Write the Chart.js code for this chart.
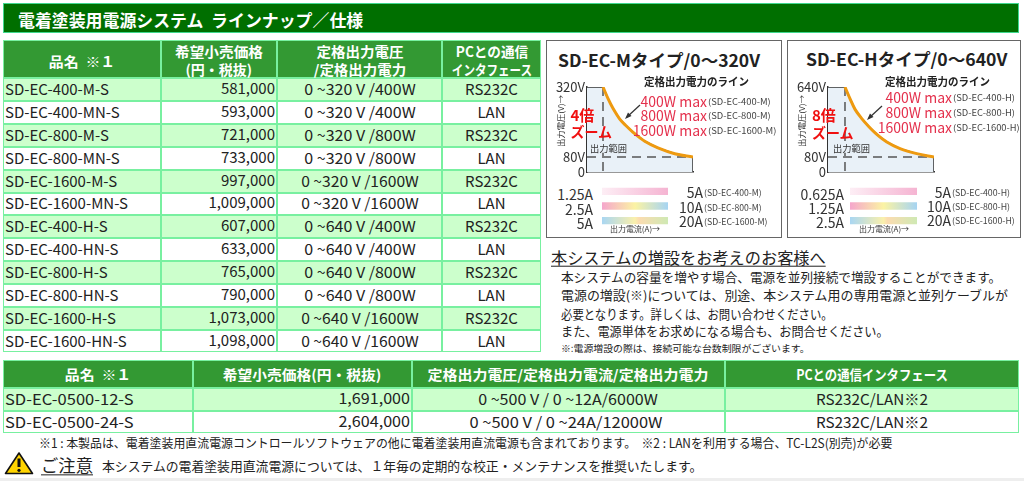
<!DOCTYPE html>
<html lang="ja"><head><meta charset="utf-8">
<script src="https://cdn.jsdelivr.net/npm/chart.js@4"></script>
<style>
html,body{margin:0;padding:0;background:#fff;width:1024px;height:481px;overflow:hidden}
body{position:relative;font-family:"Noto Sans CJK JP","Noto Sans",sans-serif;color:#222}
.t{position:absolute;white-space:pre;line-height:.9;z-index:2}
.c{position:absolute;box-sizing:border-box}
canvas{position:absolute}
svg{position:absolute;left:0;top:0}
</style></head><body>
<script>
/* ---- table data ---- */
const tableHeaders=[["品名  ※１"],["希望小売価格","(円・税抜)"],["定格出力電圧","/定格出力電力"],["PCとの通信","インタフェース"]];
const models=["SD-EC-400-M-S","SD-EC-400-MN-S","SD-EC-800-M-S","SD-EC-800-MN-S","SD-EC-1600-M-S","SD-EC-1600-MN-S","SD-EC-400-H-S","SD-EC-400-HN-S","SD-EC-800-H-S","SD-EC-800-HN-S","SD-EC-1600-H-S","SD-EC-1600-HN-S"];
const prices=["581,000","593,000","721,000","733,000","997,000","1,009,000","607,000","633,000","765,000","790,000","1,073,000","1,098,000"];
const ratings=["0 ~320 V /400W","0 ~320 V /400W","0 ~320 V /800W","0 ~320 V /800W","0 ~320 V /1600W","0 ~320 V /1600W","0 ~640 V /400W","0 ~640 V /400W","0 ~640 V /800W","0 ~640 V /800W","0 ~640 V /1600W","0 ~640 V /1600W"];
const ports=["RS232C","LAN","RS232C","LAN","RS232C","LAN","RS232C","LAN","RS232C","LAN","RS232C","LAN"];
const headers2=["品名  ※１","希望小売価格(円・税抜)","定格出力電圧/定格出力電流/定格出力電力","PCとの通信インタフェース"];
const models2=["SD-EC-0500-12-S","SD-EC-0500-24-S"];
const prices2=["1,691,000","2,604,000"];
const ratings2=["0 ~500 V / 0 ~12A/6000W","0 ~500 V / 0 ~24A/12000W"];
const ports2=["RS232C/LAN※2","RS232C/LAN※2"];
/* ---- chart data ---- */
const mCurrent=[1.25,1.46,1.67,1.94,2.19,2.57,2.99,3.54,4.24,5];
const mVoltage=[320,280,246,211,189,160,134,111,91,80];
const hCurrent=[0.625,0.87,1.12,1.45,1.77,2.19,2.68,3.33,4.15,5];
const hVoltage=[640,547,461,387,328,261,200,147,107,80];
const rangeBars=[[25,100],[25,100],[25,100]];
const rangeRows=["400","800","1600"];
const mAmpLow=["1.25A","2.5A","5A"], hAmpLow=["0.625A","1.25A","2.5A"], ampHigh=["5A","10A","20A"];
const wattLines=["400W max","800W max","1600W max"];

/* ---- helpers ---- */
function put(text,x,y,size,o={}){
  const e=document.createElement('div');e.className='t';e.textContent=text;
  e.style.left=x+'px';e.style.top=y+'px';e.style.fontSize=size+'px';
  if(o.color)e.style.color=o.color; if(o.bold)e.style.fontWeight='700';
  if(o.bg)e.style.background=o.bg;
  if(o.u){e.style.textDecoration='underline';e.style.textUnderlineOffset='2px'}
  document.body.appendChild(e);
  const s=o.w?o.w/e.offsetWidth:1, a=o.a||'l';
  const tx=a==='l'?'0':a==='c'?'-50%':'-100%';
  e.style.transformOrigin=a==='l'?'left center':a==='c'?'center':'right center';
  e.style.transform=`translate(${tx},-50%) ${o.rot?'rotate(-90deg) ':''}scaleX(${s})`;
  return e;
}
function cell(x0,y0,x1,y1,bg,bd){
  const e=document.createElement('div');e.className='c';
  e.style.cssText=`left:${x0}px;top:${y0}px;width:${x1-x0}px;height:${y1-y0}px;background:${bg};border:${bd||'1.5px solid #78f0a0'}`;
  document.body.appendChild(e);
}
/* ---- title bar ---- */
cell(3,3,1019,33,'#006f00','1.5px solid #40d890');
put("電着塗装用電源システム  ラインナップ／仕様",18,19.5,17,{color:'#fff',bold:true,w:345});

/* ---- upper table ---- */
const colX=[3,160.5,277,442,541], rowH=22.85, top1=78.3;
const headW=[[66],[88],[87,92],[72,80]];
tableHeaders.forEach((h,i)=>{
  cell(colX[i],39.5,colX[i+1],top1,'#339933');
  const cx=(colX[i]+colX[i+1])/2;
  if(h.length===1) put(h[0],cx,60.5,14,{color:'#fff',bold:true,a:'c',w:headW[i][0]});
  else {put(h[0],cx,51,14,{color:'#fff',bold:true,a:'c',w:headW[i][0]});
        put(h[1],cx,69,14,{color:'#fff',bold:true,a:'c',w:headW[i][1]});}
});
models.forEach((m,r)=>{
  const y0=top1+r*rowH,y1=y0+rowH,bg=r%2?'#ffffff':'#ccffcc',yc=(y0+y1)/2-.5;
  for(let i=0;i<4;i++)cell(colX[i],y0,colX[i+1],y1,bg);
  put(m,5,yc,15,{});
  put(prices[r],275,yc-1,15,{a:'r'});
  put(ratings[r],(colX[2]+colX[3])/2,yc,15,{a:'c',w:ratings[r].includes('1600')?118:111});
  put(ports[r],(colX[3]+colX[4])/2,yc,15,{a:'c'});
});

/* ---- lower table ---- */
const colX2=[3,192.5,411.5,725,1019], y2=[359.5,387.7,410.7,433.5];
const headW2=[66,159,281,152];
headers2.forEach((h,i)=>{
  cell(colX2[i],y2[0],colX2[i+1],y2[1],'#339933');
  put(h,(colX2[i]+colX2[i+1])/2,374,14,{color:'#fff',bold:true,a:'c',w:headW2[i]});
});
models2.forEach((m,r)=>{
  const bg=r?'#ffffff':'#ccffcc',yc=(y2[r+1]+y2[r+2])/2-.5;
  for(let i=0;i<4;i++)cell(colX2[i],y2[r+1],colX2[i+1],y2[r+2],bg);
  put(m,5,yc,15,{w:129});
  put(prices2[r],410,yc-1,15,{a:'r',w:72});
  put(ratings2[r],(colX2[2]+colX2[3])/2-(r?2:0),yc,15,{a:'c',w:r?193:180});
  put(ports2[r],(colX2[3]+colX2[4])/2,yc,15,{a:'c',w:112});
});

/* ---- notes ---- */
put("※1 : 本製品は、電着塗装用直流電源コントロールソフトウェアの他に電着塗装用直流電源も含まれております。  ※2 : LANを利用する場合、TC-L2S(別売)が必要",39,442.5,12.5,{w:853});
put("ご注意",41,464.5,17,{u:true,w:52});
put("本システムの電着塗装用直流電源については、１年毎の定期的な校正・メンテナンスを推奨いたします。",102,466,13,{w:600});
put("本システムの増設をお考えのお客様へ",551,257,16.2,{u:true,w:275});
put("本システムの容量を増やす場合、電源を並列接続で増設することができます。",561,276.5,12.6,{w:440});
put("電源の増設(※)については、別途、本システム用の専用電源と並列ケーブルが",561,295,12.6,{w:447});
put("必要となります。詳しくは、お問い合わせください。",561,313.5,12.6,{w:272});
put("また、電源単体をお求めになる場合も、お問合せください。",561,331,12.6,{w:328});
put("※:電源増設の際は、接続可能な台数制限がございます。",561,348,9.6,{w:249});
cell(0,478,1024,481,'#eeeeee','none');

/* ---- caution icon + arrows ---- */
document.body.insertAdjacentHTML('beforeend',`<svg width="1024" height="481" style="z-index:3" fill="none">
<path d="M19 453 L32.5 473.5 L5.5 473.5 Z" fill="#ffd400" stroke="#111" stroke-width="1.6" stroke-linejoin="round"/>
<path d="M19 458.5 L19 467" stroke="#111" stroke-width="3"/><circle cx="19" cy="470.3" r="1.6" fill="#111"/>
<path d="M640 105 L627 117" stroke="#333" stroke-width="1.2"/><path d="M625 119 L628 112.5 L631.5 116 Z" fill="#333"/>
<path d="M882 106 L869 118" stroke="#333" stroke-width="1.2"/><path d="M867 120 L870 113.5 L873.5 117 Z" fill="#333"/>
</svg>`);

/* ---- panels ---- */
const RED='#e4304c';
function panel(cfg){
  cell(cfg.px0,40,cfg.px1,238,'#fff','1.5px solid #666');
  put(cfg.title,cfg.titleX,cfg.titleY,17,{bold:true,w:cfg.titleW,color:'#222'});
  put("定格出力電力のライン",cfg.lineX,82,11,{bold:true,w:105});
  wattLines.forEach((w,i)=>{
    put(w,cfg.wattX[i],cfg.wattY[i],14,{color:RED,a:'r'});
    put(`(SD-EC-${rangeRows[i]}-${cfg.t})`,cfg.wattX[i]+1,cfg.wattY[i]+1,8.5,{color:'#444',w:cfg.smallW[i]});
  });
  put(cfg.zoom,cfg.zoomX,115,15,{color:'#f01010',bold:true,w:24});
  put("ズーム",cfg.zoomX,cfg.zoomY,14,{color:'#f01010',bold:true,w:42});
  put("出力範囲",cfg.rangeX,148,9.5,{w:37,color:'#333',bg:'#e9f1f8'});
  put("出力電圧(V)→",cfg.yTitleX,121,7.5,{a:'c',rot:true,w:52,color:'#333'});
  cfg.low.forEach((t,i)=>{
    put(t,cfg.lowX,cfg.ampY[i]+2,14,{a:'r',color:'#333'});
    put(ampHigh[i],cfg.highX,cfg.ampY[i],14,{a:'r',color:'#333'});
    put(`(SD-EC-${rangeRows[i]}-${cfg.t})`,cfg.highX+1,cfg.ampY[i]+1,8.5,{color:'#444',w:cfg.ampSmallW[i]});
  });
  put("出力電流(A)→",cfg.xTitleX,229,7.5,{a:'c',w:50,color:'#333'});

  /* plot */
  const cv=document.createElement('canvas');
  const W=cfg.plotR-cfg.plotL+32+7,H=104;
  cv.width=W;cv.height=H;cv.style.cssText=`left:${cfg.plotL-32}px;top:78px;width:${W}px;height:${H}px;z-index:1`;
  document.body.appendChild(cv);
  const I=cfg.I,V=cfg.V,xMin=cfg.xMin,floor=cfg.floor,vMax=V[0];
  const pts=I.map((x,k)=>({x,y:V[k]}));
  new Chart(cv,{type:'scatter',data:{datasets:[
    {label:'curve',data:pts,showLine:true,borderColor:'#ee9a10',borderWidth:3,pointRadius:0,tension:0.35,order:1},
    {label:'limit',data:[{x:xMin,y:vMax},{x:I[0],y:vMax},...pts.slice(1),{x:I[I.length-1],y:floor}],showLine:true,borderColor:'#333',borderWidth:1.5,backgroundColor:'#e9f1f8',fill:'start',pointRadius:0,tension:0,order:4},
    {label:'80V',data:[{x:xMin,y:80},{x:I[I.length-1],y:80}],showLine:true,borderColor:'#555',borderWidth:1.5,borderDash:[9,6],pointRadius:0,order:2},
    {label:'Imin',data:[{x:I[0],y:vMax},{x:I[0],y:floor}],showLine:true,borderColor:'#555',borderWidth:1.5,borderDash:[9,6],pointRadius:0,order:2}
  ]},options:{responsive:false,animation:false,events:[],
    layout:{padding:{top:9,right:7,bottom:9,left:0}},
    plugins:{legend:{display:false},tooltip:{enabled:false}},
    scales:{
      x:{type:'linear',min:xMin,max:I[I.length-1],grid:{display:false},border:{display:true,color:'#333',width:1.5},ticks:{display:false},
        afterFit:s=>{s.height=1;s.paddingLeft=0;s.paddingRight=0}},
      y:{type:'linear',min:floor,max:vMax,grid:{display:false,drawTicks:false},border:{display:true,color:'#333',width:1.5},
        afterBuildTicks:s=>{s.ticks=[{value:floor},{value:80},{value:vMax}]},
        afterFit:s=>{s.width=32;s.paddingTop=0;s.paddingBottom=0},
        ticks:{padding:2,autoSkip:false,color:'#333',font:{family:'"Noto Sans CJK JP"',size:13},callback:v=>v===floor?'0':v+'V'}}
    }}});

  /* current-range bars */
  const cb=document.createElement('canvas');
  cb.width=cfg.barR-cfg.barL;cb.height=44;cb.style.cssText=`left:${cfg.barL}px;top:184px;width:${cfg.barR-cfg.barL}px;height:44px`;
  document.body.appendChild(cb);
  const grads=[
    [[0,'#fdeef5'],[1,'#f5b4d2']],
    [[0,'#f5a6cc'],[.5,'#fbf3a4'],[1,'#a6d4f2']],
    [[0,'#a9d6f2'],[.5,'#faf0ac'],[.56,'#fbdcb0'],[1,'#cfe9b4']]];
  new Chart(cb,{type:'bar',data:{labels:rangeRows,datasets:[{data:rangeBars,barThickness:6.6,
    backgroundColor:c=>{const a=c.chart.chartArea;if(!a)return '#fff';
      const g=c.chart.ctx.createLinearGradient(a.left,0,a.right,0);grads[c.dataIndex].forEach(s=>g.addColorStop(s[0],s[1]));return g}}]},
    options:{indexAxis:'y',responsive:false,animation:false,events:[],layout:{padding:0},
      plugins:{legend:{display:false},tooltip:{enabled:false}},
      scales:{x:{display:false,min:25,max:100},y:{display:false}}}});
}
panel({t:'M',px0:546,px1:782,title:"SD-EC-Mタイプ/0〜320V",titleX:558,titleY:59.5,titleW:202,lineX:644,
  wattX:[707,707,707],wattY:[101,115,130],smallW:[63,63,68],zoom:"4倍",zoomX:570.5,zoomY:131,rangeX:590,yTitleX:561,
  low:mAmpLow,lowX:593,ampY:[192,207,221],highX:703,ampSmallW:[58,58,63],xTitleX:635,
  plotL:587,plotR:693,I:mCurrent,V:mVoltage,xMin:0.583,floor:28.6,barL:602,barR:668});
panel({t:'H',px0:787,px1:1021,title:"SD-EC-Hタイプ/0〜640V",titleX:806,titleY:58.5,titleW:201,lineX:885,
  wattX:[952,952,952],wattY:[97,112,127],smallW:[62,62,67],zoom:"8倍",zoomX:812,zoomY:132,rangeX:833,yTitleX:802,
  low:hAmpLow,lowX:844,ampY:[192,206,220],highX:951,ampSmallW:[58,58,63],xTitleX:884,
  plotL:828,plotR:934,I:hCurrent,V:hVoltage,xMin:-0.21,floor:-40,barL:850,barR:917});
</script>
</body></html>
